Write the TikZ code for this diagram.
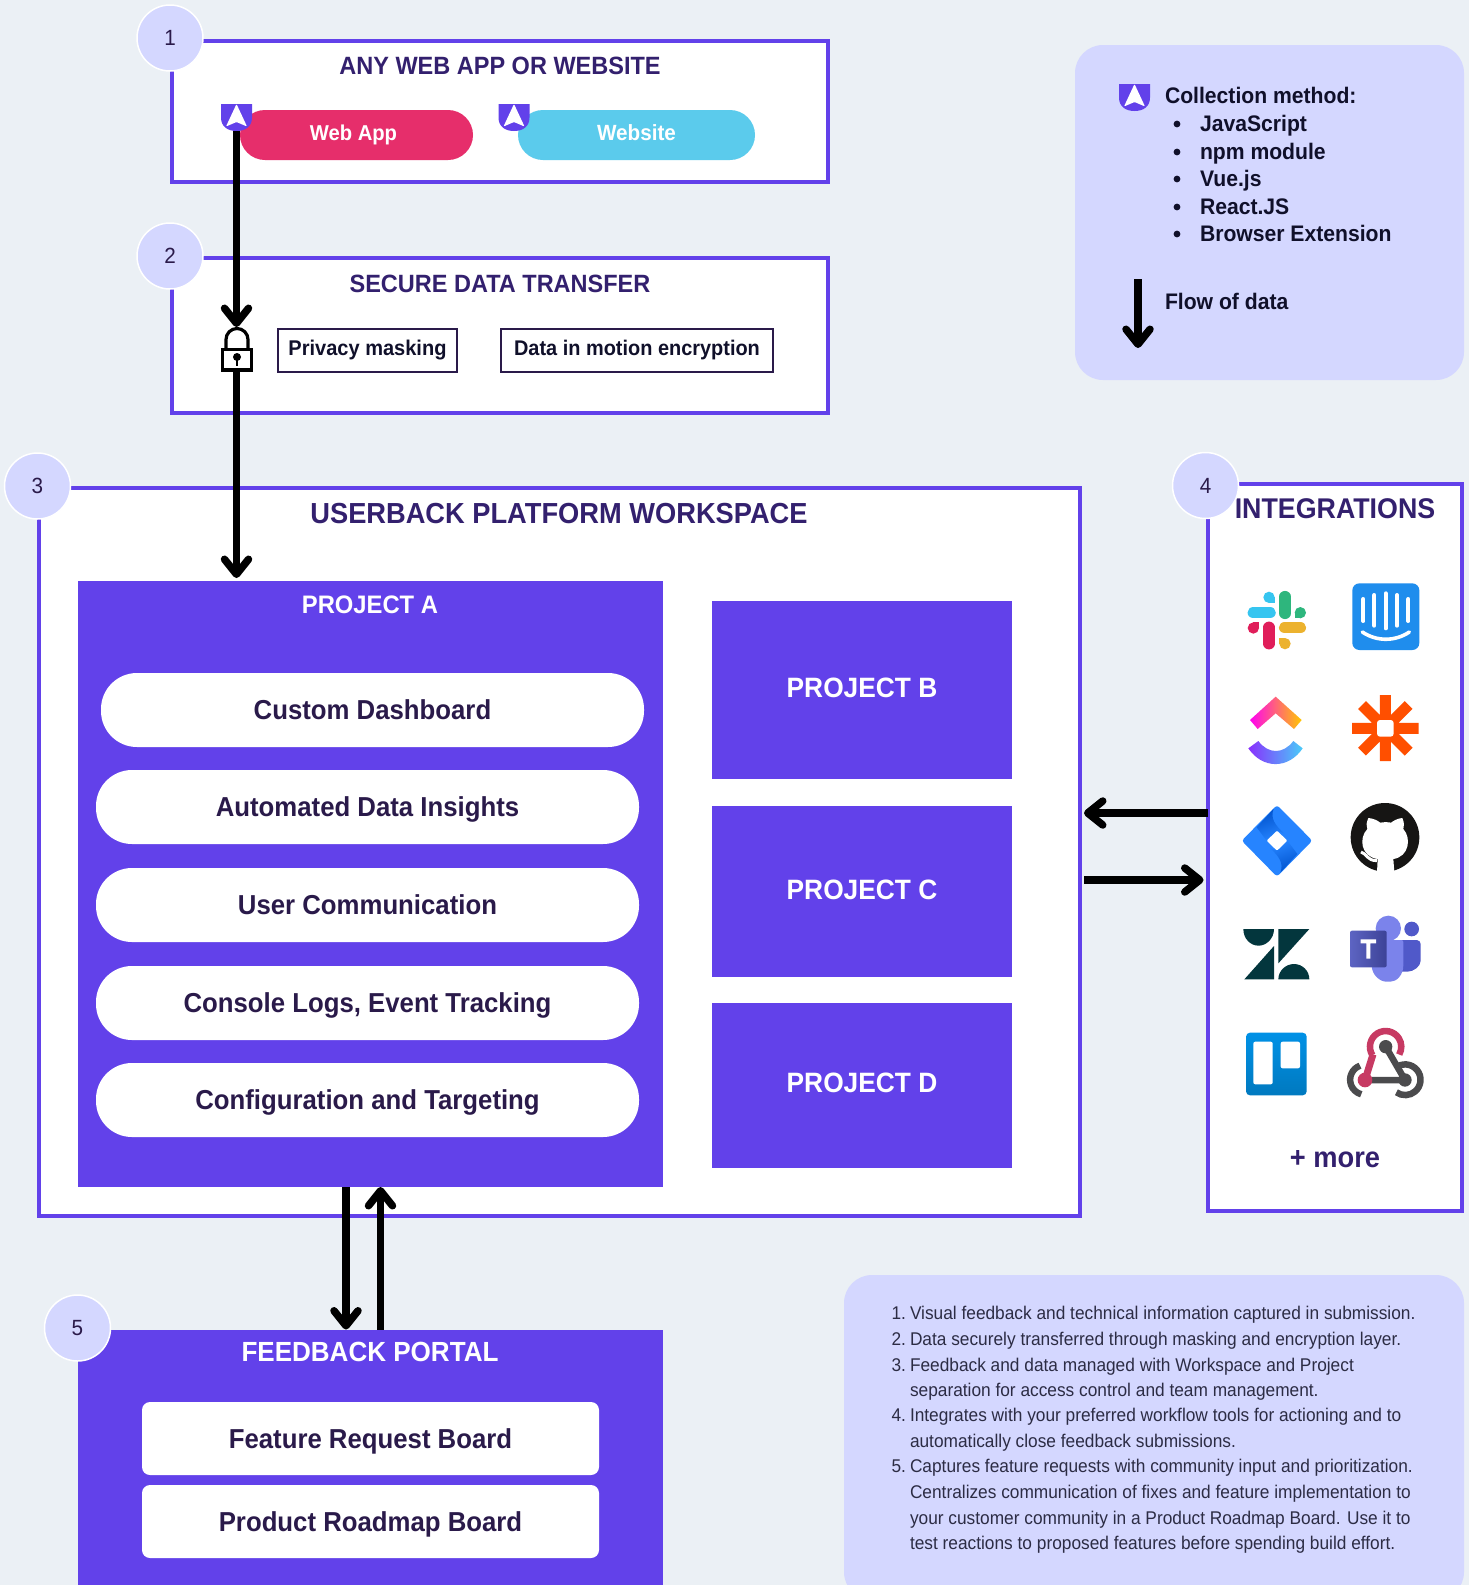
\documentclass[tikz,border=0pt]{standalone}
\usepackage{fontspec}
\setmainfont{Liberation Sans}[FakeStretch=0.94]
\usetikzlibrary{arrows.meta,calc}
\definecolor{bgc}{HTML}{EBF0F5}
\definecolor{lav}{HTML}{D4D7FF}
\definecolor{pur}{HTML}{6241EA}
\definecolor{ttl}{HTML}{33206E}
\definecolor{ink}{HTML}{2A1A4A}
\definecolor{noir}{HTML}{10102A}
\definecolor{notec}{HTML}{2C2C44}
\definecolor{pinkc}{HTML}{E62E6B}
\definecolor{skyc}{HTML}{5BCBEC}
\tikzset{
  fs/.style={font=\fontsize{#1}{#1}\selectfont,text height={0.72*#1*1pt},text depth=0pt,inner sep=0pt,outer sep=0pt},
  fsb/.style={font=\fontsize{#1}{#1}\selectfont\bfseries,text height={0.72*#1*1pt},text depth=0pt,inner sep=0pt,outer sep=0pt},
  frame/.style={draw=pur,line width=4pt,fill=white,inner sep=0pt,outer sep=0pt},
  block/.style={fill=pur,inner sep=0pt,outer sep=0pt},
  pill/.style={fill=white,rounded corners=36pt,inner sep=0pt,outer sep=0pt,text=ink},
  board/.style={fill=white,rounded corners=8pt,inner sep=0pt,outer sep=0pt,text=ink},
  tagbox/.style={draw=ink,line width=2pt,fill=white,inner sep=0pt,outer sep=0pt,text=noir},
  numc/.style={circle,fill=lav,draw=white,line width=1.5pt,minimum size=66pt,inner sep=0pt,text=ink},
  flow/.style={line width=7.5pt,-{Straight Barb[length=15pt,width=24pt,round]},black},
  titlec/.style={text=ttl},
  noteline/.style={fs=18.4,text=notec,anchor=west},
  notenum/.style={fs=18.4,text=notec,anchor=east},
  legt/.style={fsb=22.5,text=noir,anchor=west},
  shieldp/.pic={
    \fill[pur] (-15.5,-13.5) -- (15.5,-13.5) -- (15.5,0) .. controls (15.5,9) and (9,13.5) .. (0,13.5) .. controls (-9,13.5) and (-15.5,9) .. (-15.5,0) -- cycle;
    \fill[white,rounded corners=1pt] (0,-13.5) -- (10.5,9) -- (0,4.5) -- (-10.5,9) -- cycle;
  }
}
\newcommand{\bx}[7]{\node[#6,minimum width={(#4-#2)*1pt},minimum height={(#5-#3)*1pt}] (#1) at ({(#2+#4)/2},{(#3+#5)/2}) {#7};}
\begin{document}
\begin{tikzpicture}[x=1pt,y=-1pt]
\useasboundingbox (0,0) rectangle (1469,1585);
\clip (0,0) rectangle (1469,1585);
\fill[bgc] (0,0) rectangle (1469,1585);

% frames
\bx{appbox}{172}{40.5}{828}{182}{frame}{}
\bx{secbox}{172}{258}{828}{412.5}{frame}{}
\bx{work}{39}{488}{1080}{1216}{frame}{}
\bx{ints}{1207.5}{484}{1462}{1211}{frame}{}
\bx{legend}{1075}{45}{1464}{380}{fill=lav,rounded corners=28pt,inner sep=0pt}{}
\bx{notes}{844}{1275}{1464}{1600}{fill=lav,rounded corners=28pt,inner sep=0pt}{}

% titles
\node[fsb=25,titlec] (t1) at (500,65.5) {ANY WEB APP OR WEBSITE};
\node[fsb=25,titlec] (t2) at (500,283) {SECURE DATA TRANSFER};
\node[fsb=29,titlec] (t3) at (559,513) {USERBACK PLATFORM WORKSPACE};
\node[fsb=28.5,titlec] (t4) at (1335,508.5) {INTEGRATIONS};

% top row
\bx{webapp}{240}{110}{473}{160}{fill=pinkc,rounded corners=25pt,inner sep=0pt,fsb=21.5,text=white,text depth=4pt}{Web App\kern6pt}
\bx{website}{518}{110}{755}{160}{fill=skyc,rounded corners=25pt,inner sep=0pt,fsb=22,text=white,text depth=4pt}{Website}
\node[inner sep=0pt,minimum width=31pt,minimum height=27pt] (shA) at (236.5,117.5) {};
\pic at (shA) {shieldp};
\node[inner sep=0pt,minimum width=31pt,minimum height=27pt] (shB) at (514,117.5) {};
\pic at (shB) {shieldp};
\bx{privacy}{278}{329}{457}{372}{tagbox,fsb=21.3,text depth=6pt}{Privacy masking}
\bx{motion}{501}{329}{773}{372}{tagbox,fsb=21.2,text depth=6pt}{Data in motion encryption}

% lock
\node[inner sep=0pt,outer sep=0pt,minimum width=32pt,minimum height=44pt] (lock) at (236.5,349) {};
\draw[black,line width=3.2pt] (226,349) -- (226,339.5) arc[start angle=180,end angle=0,radius=11pt] -- (248,349);
\draw[black,fill=white,line width=3.2pt] (222.5,349.5) rectangle (251.5,370);
\fill[black] (237,357) circle[radius=4pt];
\draw[black,line width=2.6pt] (237,357) -- (237,366);

% project A
\bx{projA}{78}{581}{663}{1187}{block}{}
\node[fsb=25.3,text=white] (tA) at (370,604) {PROJECT A};
\bx{p1}{101}{673}{644}{747}{pill,fsb=27.4}{Custom Dashboard}
\bx{p2}{96}{770}{639}{844}{pill,fsb=27.4}{Automated Data Insights}
\bx{p3}{96}{868}{639}{942}{pill,fsb=27.4}{User Communication}
\bx{p4}{96}{966}{639}{1040}{pill,fsb=27.4}{Console Logs, Event Tracking}
\bx{p5}{96}{1063}{639}{1137}{pill,fsb=27.4}{Configuration and Targeting}

% B C D
\bx{projB}{712}{601}{1012}{779}{block,fsb=28,text=white,text depth=6pt}{PROJECT B}
\bx{projC}{712}{805.5}{1012}{976.5}{block,fsb=28,text=white,text depth=4pt}{PROJECT C}
\bx{projD}{712}{1003}{1012}{1167.5}{block,fsb=28,text=white,text depth=6pt}{PROJECT D}

% portal
\bx{portal}{78}{1329.5}{663}{1600}{block}{}
\node[fsb=27.7,text=white] (tP) at (370,1351.5) {FEEDBACK PORTAL};
\bx{b1}{142}{1402}{599}{1475}{board,fsb=27.4}{Feature Request Board}
\bx{b2}{142}{1485}{599}{1558}{board,fsb=27.4}{Product Roadmap Board}

% connectors
\coordinate (dn) at (346,0);
\coordinate (up) at (380.5,0);
\coordinate (yl) at (0,813);
\coordinate (yr) at (0,880);
\draw[flow] (shA.south) -- (lock.north);
\draw[flow,shorten >=3pt] (lock.south) -- (lock.south |- projA.north);
\draw[flow] (dn |- projA.south) -- (dn |- portal.north);
\draw[flow] (up |- portal.north) -- (up |- projA.south);
\draw[flow] (ints.west |- yl) -- ($(work.east |- yl)+(4,0)$);
\draw[flow,shorten >=4pt] ($(work.east |- yr)+(4,0)$) -- (ints.west |- yr);

% number circles
\node[numc,fs=22] (n1) at (170,38) {1};
\node[numc,fs=22] (n2) at (170,256) {2};
\node[numc,fs=22] (n3) at (37.5,486) {3};
\node[numc,fs=22] (n4) at (1205.5,485.5) {4};
\node[numc,fs=22] (n5) at (77.5,1328) {5};

% legend
\node[inner sep=0pt,minimum width=31pt,minimum height=27pt] (shL) at (1134.5,97.5) {};
\pic at (shL) {shieldp};
\node[legt] (l0) at (1165,95.5) {Collection method:};
\node[legt] (l1) at (1200,123) {JavaScript};
\node[legt] (l2) at (1200,151) {npm module};
\node[legt] (l3) at (1200,178) {Vue.js};
\node[legt] (l4) at (1200,206) {React.JS};
\node[legt] (l5) at (1200,233) {Browser Extension};
\foreach \yy in {124,152,179,207,234}
  \fill[noir] (1177,\yy) circle[radius=3.4pt];
\node[legt] (lf) at (1165,301) {Flow of data};
\coordinate (fa) at (1138,279);
\coordinate (fb) at (1138,348);
\draw[flow] (fa) -- (fb);

% notes
\node[notenum] at (906,1313) {1.};
\node[noteline] at (910,1313) {Visual feedback and technical information captured in submission.};
\node[notenum] at (906,1339) {2.};
\node[noteline] at (910,1339) {Data securely transferred through masking and encryption layer.};
\node[notenum] at (906,1364.5) {3.};
\node[noteline] at (910,1364.5) {Feedback and data managed with Workspace and Project};
\node[noteline] at (910,1390) {separation for access control and team management.};
\node[notenum] at (906,1415) {4.};
\node[noteline] at (910,1415) {Integrates with your preferred workflow tools for actioning and to};
\node[noteline] at (910,1441) {automatically close feedback submissions.};
\node[notenum] at (906,1466) {5.};
\node[noteline] at (910,1466) {Captures feature requests with community input and prioritization.};
\node[noteline] at (910,1492) {Centralizes communication of fixes and feature implementation to};
\node[noteline] at (910,1517.5) {your customer community in a Product Roadmap Board. Use it to};
\node[noteline] at (910,1543) {test reactions to proposed features before spending build effort.};

\node[fsb=29,titlec] (more) at (1335,1157) {+ more};

% --- logos, zoom coordinates
\begin{scope}[shift={(1190,560)},scale=1/3]
  % slack
  \definecolor{sc}{HTML}{36C5F0}\definecolor{sg}{HTML}{2EB67D}\definecolor{sp}{HTML}{E01E5A}\definecolor{sy}{HTML}{ECB22E}
  \draw[sc,line width=11.5pt,line cap=round] (190,158) -- (240,158);
  \fill[sc] (237,112) circle[radius=17pt]; \fill[sc] (237,112) rectangle (254,129);
  \draw[sg,line width=11.5pt,line cap=round] (285,110) -- (285,160);
  \fill[sg] (331,158) circle[radius=17pt]; \fill[sg] (314,158) rectangle (331,175);
  \draw[sp,line width=11.5pt,line cap=round] (237,202) -- (237,251);
  \fill[sp] (190,204) circle[radius=17pt]; \fill[sp] (190,187) rectangle (207,204);
  \draw[sy,line width=11.5pt,line cap=round] (284,203) -- (331,203);
  \fill[sy] (285,251) circle[radius=17pt]; \fill[sy] (268,234) rectangle (285,251);
  % intercom
  \fill[rounded corners=7pt,color={rgb,255:red,31;green,141;blue,237}] (487,70) rectangle (688,270);
  \draw[white,line width=4pt,line cap=round] (520,117) -- (520,183) (553,105) -- (553,197) (587,100) -- (587,205) (621,105) -- (621,197) (655,117) -- (655,183);
  \draw[white,line width=3.6pt,line cap=round] (517,216) .. controls (560,245) and (615,245) .. (658,216);
  % clickup
  \shade[left color={rgb,255:red,255;green,2;blue,240},right color={rgb,255:red,255;green,200;blue,0}] (257,410) -- (335,480) -- (312,507) -- (257,460) -- (203,507) -- (180,480) -- cycle;
  \shade[left color={rgb,255:red,137;green,48;blue,253},right color={rgb,255:red,73;green,204;blue,249}] (175,565) -- (205,543) .. controls (235,583) and (280,583) .. (310,543) -- (338,565) .. controls (295,628) and (218,628) .. (175,565) -- cycle;
  % zapier
  \definecolor{zp}{HTML}{FF4F00}
  \draw[zp,line width=11pt] (586,405) -- (586,603) (486,505) -- (686,505) (516,435) -- (656,575) (516,575) -- (656,435);
  \fill[white,rounded corners=3pt] (561,480) rectangle (611,530);
\end{scope}
\begin{scope}[shift={(1225,790)},scale=1/3]
  % jira
  \definecolor{jb}{HTML}{2684FF}\definecolor{jd}{HTML}{0052CC}
  \fill[jb,rounded corners=3pt] (156,45) -- (262,152) -- (156,260) -- (50,152) -- cycle;
  \shade[left color=jd,right color=jb,shading angle=20] (146,56) .. controls (135,85) and (150,105) .. (177,130) -- (156,122) -- (125,152) -- (95,112) -- cycle;
  \shade[left color=jb,right color=jd,shading angle=20] (166,248) .. controls (177,219) and (162,199) .. (135,174) -- (156,182) -- (187,152) -- (217,192) -- cycle;
  \fill[white,rounded corners=1pt] (156,122) -- (187,152) -- (156,182) -- (125,152) -- cycle;
  % github
  \definecolor{gh}{HTML}{161514}
  \fill[gh] (480,142) circle[radius=103pt];
  \fill[white] (430,84) .. controls (445,85) and (458,92) .. (466,98) .. controls (475,96) and (490,96) .. (498,98) .. controls (506,92) and (518,85) .. (532,84) .. controls (538,98) and (538,108) .. (535,117) .. controls (560,145) and (552,200) .. (505,207) -- (508,247) -- (456,247) -- (458,207) .. controls (408,200) and (400,145) .. (427,117) .. controls (423,108) and (424,98) .. (430,84) -- cycle;
  \draw[white,line width=3pt] (408,186) .. controls (425,190) and (425,212) .. (456,212);
\end{scope}
\begin{scope}[shift={(1190,860)},scale=1/3]
  % zendesk
  \definecolor{zd}{HTML}{03363D}
  \fill[zd] (160,207) -- (252,207) .. controls (252,235) and (230,257) .. (206,257) .. controls (180,257) and (160,235) .. (160,207) -- cycle;
  \fill[zd] (252,258) -- (252,358) -- (163,358) -- cycle;
  \fill[zd] (265,207) -- (358,207) -- (265,310) -- cycle;
  \fill[zd] (265,358) .. controls (265,332) and (287,312) .. (312,312) .. controls (337,312) and (358,332) .. (358,358) -- cycle;
  % teams
  \definecolor{tl}{HTML}{7B83EB}\definecolor{tm}{HTML}{5059C9}\definecolor{tn}{HTML}{4B53BC}
  \fill[tm] (665,207) circle[radius=22pt];
  \fill[tm,rounded corners=4pt] (645,240) -- (692,240) -- (692,290) .. controls (692,320) and (670,335) .. (640,335) -- (620,335) -- (620,240) -- cycle;
  \fill[tl] (595,205) circle[radius=38pt];
  \fill[tl,rounded corners=2pt] (545,240) -- (640,240) -- (640,310) .. controls (640,345) and (620,365) .. (595,365) .. controls (570,365) and (545,345) .. (545,310) -- cycle;
  \shade[left color=tn!90!white,right color=tn!80!black,rounded corners=2pt] (480,212) rectangle (590,322);
  \fill[white] (512,238) rectangle (558,250) (529,250) rectangle (541,296);
  % trello
  \shade[top color={rgb,255:red,0;green,145;blue,230},bottom color={rgb,255:red,0;green,121;blue,191},rounded corners=4pt] (168,518) rectangle (350,706);
  \fill[white,rounded corners=2pt] (190,545) rectangle (248,673) (272,545) rectangle (330,625);
  % webhook
  \definecolor{wd}{HTML}{4B4B4D}\definecolor{wr}{HTML}{C73A63}
  \draw[wd,line width=6.5pt,line cap=round] (587,560) -- (645,660) (525,660) -- (645,660);
  \draw[wd,line width=6.5pt] (510,617) arc[start angle=110,end angle=255,radius=45pt];
  \draw[wd,line width=6.5pt] (616,624) arc[start angle=130,end angle=-125,radius=46pt];
  \draw[wr,line width=6.5pt] (547,585) arc[start angle=212,end angle=-30,radius=47pt];
  \draw[wr,line width=7pt] (549,583) -- (525,660);
  \fill[wr] (525,660) circle[radius=22pt];
  \fill[wd] (587,560) circle[radius=20pt];
  \fill[wd] (645,660) circle[radius=20pt];
\end{scope}
\end{tikzpicture}
\end{document}
